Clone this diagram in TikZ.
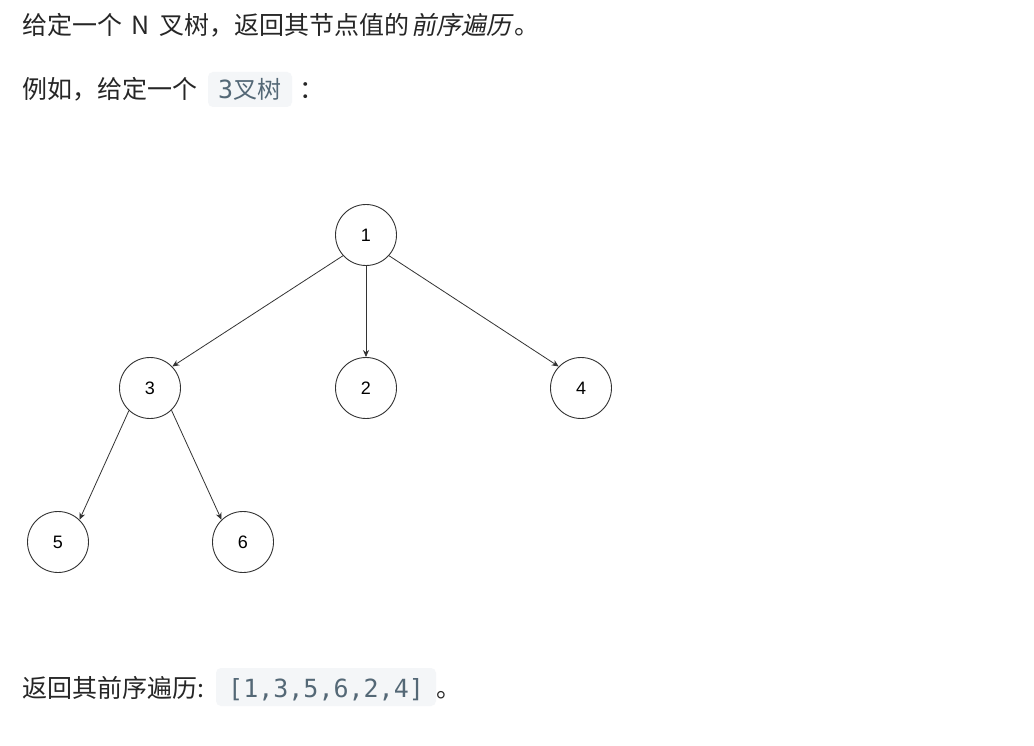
\documentclass[tikz,border=0pt]{standalone}
\usepackage{fontspec}
\usetikzlibrary{arrows.meta}
\setmainfont{Noto Sans CJK SC}
\newfontfamily\cjkit[FakeSlant=0.2]{Noto Sans CJK SC}
\newfontfamily\codemono{DejaVu Sans Mono}
\newfontfamily\labelfont{Liberation Sans}
\definecolor{maintext}{HTML}{262626}
\definecolor{codetext}{HTML}{546876}
\definecolor{codebg}{HTML}{F4F6F8}
\definecolor{treeline}{HTML}{333333}
\tikzset{
  txt/.style={anchor=base west, inner sep=0pt, text=maintext, font=\fontsize{25}{30}\selectfont},
  codebox/.style={fill=codebg, rounded corners=5pt, draw=none},
  codetxt/.style={anchor=base west, inner sep=0pt, text=codetext},
  treenode/.style={circle, draw=treeline, line width=0.9pt, minimum size=61pt, inner sep=0pt, font=\labelfont\fontsize{18}{20}\selectfont, text=black},
  edge/.style={draw=treeline, line width=0.8pt, -{Stealth[length=7pt,width=6pt]}}
}
\begin{document}
\begin{tikzpicture}[x=1pt,y=-1pt]
\useasboundingbox[fill=white] (0,0) rectangle (1034,746);
% line 1
\node[txt] (l1) at (22,35) {给定一个\hspace{9pt}N\hspace{10pt}叉树，返回其节点值的\hspace{2pt}{\cjkit 前序遍历}\hspace{3pt}。};
% line 2
\node[txt] (l2) at (22,99) {例如，给定一个};
\fill[codebox] (208,72) rectangle (292,107);
\node[codetxt] (c1) at (218,99) {{\codemono\fontsize{25}{30}\selectfont 3}{\fontsize{24}{30}\selectfont 叉树}};
\node[txt] (colon1) at (299,99) {：};
% tree
\node[treenode] (n1) at (366,235) {1};
\node[treenode] (n3) at (150,388) {3};
\node[treenode] (n2) at (366,388) {2};
\node[treenode] (n4) at (581,388) {4};
\node[treenode] (n5) at (58,542) {5};
\node[treenode] (n6) at (243,542) {6};
\draw[edge] (n1.222) -- (n3.44);
\draw[edge] (n1.south) -- (n2.north);
\draw[edge] (n1.318) -- (n4.136);
\draw[edge] (n3.227) -- (n5.46);
\draw[edge] (n3.314) -- (n6.134);
% bottom line
\node[txt] (l3) at (22,697) {返回其前序遍历:};
\fill[codebox] (216,668) rectangle (436,706);
\node[codetxt] (c2) at (228,697) {\codemono\fontsize{25}{30}\selectfont [1,3,5,6,2,4]};
\node[txt] (dot) at (436,697) {。};
\end{tikzpicture}
\end{document}
